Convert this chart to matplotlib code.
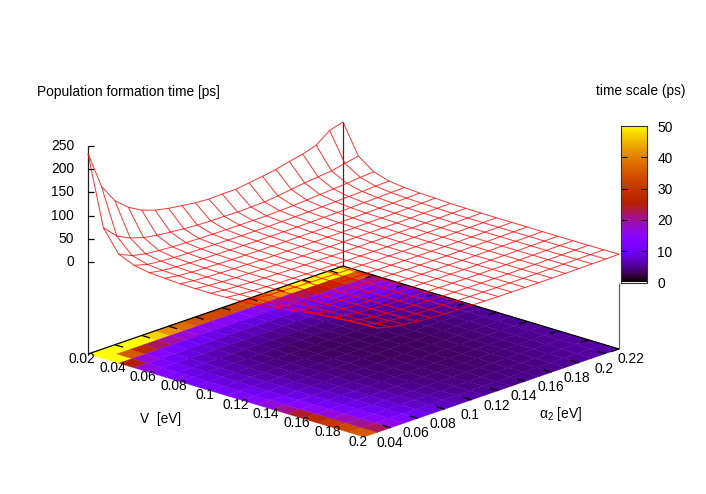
import numpy as np
import matplotlib
matplotlib.use("Agg")
import matplotlib.pyplot as plt
from matplotlib.collections import PolyCollection, LineCollection
from matplotlib.colors import LinearSegmentedColormap

plt.rcParams['font.family'] = ['Liberation Sans', 'DejaVu Sans']
plt.rcParams['mathtext.fontset'] = 'custom'
plt.rcParams['mathtext.rm'] = 'Liberation Sans'
plt.rcParams['mathtext.it'] = 'Liberation Sans:italic'

V_values = [0.02, 0.03, 0.04, 0.05, 0.06, 0.07, 0.08, 0.09, 0.10, 0.11,
            0.12, 0.13, 0.14, 0.15, 0.16, 0.17, 0.18, 0.19, 0.20]
alpha_values = [0.02, 0.03, 0.04, 0.05, 0.06, 0.07, 0.08, 0.09, 0.10, 0.11,
                0.12, 0.13, 0.14, 0.15, 0.16, 0.17, 0.18, 0.19, 0.20, 0.21]
# formation time [ps]: one row per V, one column per alpha
formation_time = [
    [233, 153, 112, 88, 72, 62, 56, 52, 48, 46, 47, 47, 51, 55, 60, 67, 73, 82, 104, 112],
    [84, 56, 42, 33, 28, 25, 22, 20, 19, 19, 18, 19, 20, 23, 27, 31, 34, 37, 43, 49],
    [37, 24, 18, 15, 13, 12, 11, 10.5, 10, 10, 10, 10, 11, 12, 14, 16, 18, 20, 23, 25],
    [23, 15, 12, 10, 9, 8.5, 8, 7.5, 7, 7, 7, 7.5, 8, 8.5, 9.5, 10.5, 11.5, 12.5, 14, 15],
    [17, 12, 9.8, 8.2, 7.3, 6.7, 6.2, 5.8, 5.5, 5.5, 5.5, 5.7, 6, 6.5, 7, 7.7, 8.5, 9.2, 10.2, 11],
    [15, 10.5, 8.4, 7, 6.1, 5.4, 5, 4.7, 4.5, 4.4, 4.4, 4.5, 4.8, 5.1, 5.5, 6, 6.6, 7.2, 8.2, 9],
    [13, 9.8, 7.8, 6.5, 5.5, 4.8, 4.3, 4, 3.8, 3.7, 3.7, 3.8, 4, 4.3, 4.7, 5.1, 5.6, 6.2, 7, 8],
    [12.5, 9.5, 7.6, 6.3, 5.4, 4.7, 4.1, 3.6, 3.3, 3.2, 3.2, 3.3, 3.5, 3.7, 4, 4.4, 4.8, 5.4, 6, 6.5],
    [12.5, 9.5, 7.6, 6.3, 5.4, 4.7, 4.1, 3.7, 3.3, 3, 3, 3, 3.2, 3.4, 3.7, 4, 4.4, 4.9, 5.4, 6],
    [13.5, 10, 8, 6.6, 5.6, 4.9, 4.3, 3.9, 3.5, 3.2, 3, 2.9, 2.9, 3, 3.3, 3.6, 4, 4.4, 4.9, 5.5],
    [15, 11, 8.6, 7, 5.9, 5.1, 4.4, 4, 3.6, 3.3, 3.1, 3, 3, 3.1, 3.3, 3.6, 4, 4.4, 4.9, 5.5],
    [17, 13, 9.5, 7.5, 6.2, 5.3, 4.6, 4.1, 3.7, 3.4, 3.2, 3.1, 3.1, 3.2, 3.4, 3.7, 4, 4.4, 4.9, 5.5],
    [22, 15, 10.5, 8, 6.7, 5.7, 4.9, 4.3, 3.9, 3.6, 3.3, 3.2, 3.2, 3.3, 3.5, 3.8, 4.1, 4.5, 5, 5.5],
    [27, 17, 11.5, 8.8, 7.2, 6, 5.2, 4.6, 4.1, 3.8, 3.5, 3.4, 3.3, 3.4, 3.6, 3.9, 4.2, 4.6, 5, 5.5],
    [32, 19, 12.5, 9.6, 7.8, 6.5, 5.6, 4.9, 4.4, 4, 3.7, 3.6, 3.5, 3.6, 3.8, 4, 4.3, 4.7, 5.1, 5.5],
    [36, 21, 14, 10.5, 8.5, 7, 6, 5.3, 4.7, 4.3, 4, 3.8, 3.7, 3.8, 4, 4.2, 4.5, 4.8, 5.2, 5.6],
    [40, 23, 15.5, 11.5, 9.2, 7.6, 6.5, 5.7, 5, 4.6, 4.3, 4.1, 4, 4, 4.2, 4.4, 4.7, 5, 5.4, 5.7],
    [43, 25, 17, 13, 10, 8.3, 7, 6.2, 5.5, 5, 4.6, 4.4, 4.3, 4.3, 4.5, 4.7, 5, 5.3, 5.6, 6],
    [45, 27, 19.5, 14.5, 11.5, 9.3, 7.8, 6.8, 6, 5.4, 5, 4.8, 4.7, 4.7, 4.8, 5, 5.3, 5.6, 6, 6.4],
]
V_ticks = [0.02, 0.04, 0.06, 0.08, 0.10, 0.12, 0.14, 0.16, 0.18, 0.20]
V_labels = ['0.02', '0.04', '0.06', '0.08', '0.1', '0.12', '0.14', '0.16', '0.18', '0.2']
alpha_ticks = [0.04, 0.06, 0.08, 0.10, 0.12, 0.14, 0.16, 0.18, 0.20, 0.22]
alpha_labels = ['0.04', '0.06', '0.08', '0.1', '0.12', '0.14', '0.16', '0.18', '0.2', '0.22']
z_ticks = [0, 50, 100, 150, 200, 250]
cb_ticks = [0, 10, 20, 30, 40, 50]

W, H = 706, 494
FS = 9.9
fig = plt.figure(figsize=(W / 100, H / 100), dpi=100)
ax = fig.add_axes([0, 0, 1, 1])
ax.set_xlim(0, W)
ax.set_ylim(H, 0)
ax.axis('off')

V = np.array(V_values)
A = np.array(alpha_values)
Z = np.array(formation_time, dtype=float)
V0, V1, A0, A1 = V[0], V[-1], A[0], A[-1]
ZBASE = -197.0


def project(v, a, z=ZBASE):
    """Fixed oblique view of the (V, alpha, z) box onto figure pixels."""
    s = (np.asarray(v) - V0) / (V1 - V0)
    t = (np.asarray(a) - A0) / (A1 - A0)
    x = 88 + 276 * s + 255 * t
    y = 354 + 83 * s - 88 * t - (np.asarray(z) - ZBASE) * 23.3 / 50
    return x, y


# gnuplot's default pm3d palette (rgbformulae 7,5,15)
xs = np.linspace(0, 1, 256)
cmap = LinearSegmentedColormap.from_list(
    'pm3d', np.c_[np.sqrt(xs), xs ** 3, np.clip(np.sin(2 * np.pi * xs), 0, 1)], N=256)

# base map: one quad per grid cell, coloured by the mean of its corners
polys, cell_vals = [], []
for j in range(len(V) - 1):
    for i in range(len(A) - 1):
        vv = [V[j], V[j], V[j + 1], V[j + 1]]
        aa = [A[i], A[i + 1], A[i + 1], A[i]]
        px, py = project(vv, aa)
        polys.append(np.c_[px, py])
        cell_vals.append((Z[j, i] + Z[j, i + 1] + Z[j + 1, i + 1] + Z[j + 1, i]) / 4)
ax.add_collection(PolyCollection(polys, array=np.array(cell_vals), cmap=cmap,
                                 clim=(0, 50), edgecolors='face', linewidths=0.25, zorder=2))

BLACK = '#000000'
AXW = 0.9


def seg(v0, a0, z0, v1, a1, z1, color=BLACK, zorder=3, lw=AXW):
    x0, y0 = project(v0, a0, z0)
    x1, y1 = project(v1, a1, z1)
    ax.plot([x0, x1], [y0, y1], color=color, lw=lw, zorder=zorder, solid_capstyle='butt')


# back edges of the base and vertical edges
seg(V0, A0, ZBASE, V0, A1, ZBASE)
seg(V0, A1, ZBASE, V1, A1, ZBASE)
seg(V0, A0, ZBASE, V0, A0, 250, color='#202020')
seg(V0, A1, ZBASE, V0, A1, Z[0, -1], color='#303030', zorder=1.5)
seg(V1, A1, ZBASE, V1, A1, -55, color='#606060', zorder=1.5)

# z axis
for z in z_ticks:
    x, y = project(V0, A0, z)
    ax.plot([x, x + 6], [y, y], color=BLACK, lw=AXW, zorder=3, solid_capstyle='butt')
    ax.text(x - 14, y, str(z), ha='right', va='center', fontsize=FS, color='black')

# ticks on the base, pointing inward
dV = 0.0054
dA = 0.006
for a, lab in zip(alpha_ticks, alpha_labels):
    if a - 1e-9 <= A1:
        seg(V0, a, ZBASE, V0 + dV, a, ZBASE)
        seg(V1, a, ZBASE, V1 - dV, a, ZBASE)
    x, y = project(V1, a)
    ax.text(x - 1.5, y + 15, lab, ha='center', va='center', fontsize=FS, color='black')
for v, lab in zip(V_ticks, V_labels):
    if v > V0 + 1e-9:
        seg(v, A1, ZBASE, v, A1 - dA, ZBASE)
    x, y = project(v, A0)
    ax.text(x - 6, y + 4.5, lab, ha='center', va='center', fontsize=FS, color='black')

# wire mesh of the surface
lines = []
for j in range(len(V)):
    px, py = project(np.full_like(A, V[j]), A, Z[j])
    lines.append(np.c_[px, py])
for i in range(len(A)):
    px, py = project(V, np.full_like(V, A[i]), Z[:, i])
    lines.append(np.c_[px, py])
ax.add_collection(LineCollection(lines, colors='#ff0000', linewidths=0.7, zorder=4, alpha=0.8))

# texts
ax.text(37, 92, 'Population formation time [ps]', ha='left', va='center', fontsize=FS)
ax.text(686, 91, 'time scale (ps)', ha='right', va='center', fontsize=FS)
ax.text(140, 419, 'V  [eV]', ha='left', va='center', fontsize=FS)
ax.text(539, 414, r'$\mathrm{α_2}$ [eV]', ha='left', va='center', fontsize=FS)

# colour box
cax = fig.add_axes([620.5 / W, 1 - 282.5 / H, 26.5 / W, 156.5 / H], zorder=5)
cax.imshow(np.linspace(0, 50, 256)[:, None], origin='lower', aspect='auto', cmap=cmap,
           vmin=0, vmax=50, extent=[0, 1, 0, 50])
cax.set_xticks([])
cax.set_yticks(cb_ticks)
cax.tick_params(axis='y', direction='in', length=4.3, width=0.7, left=True, right=True,
                labelleft=False, labelright=True, labelsize=FS, pad=7.5)
for s in cax.spines.values():
    s.set_linewidth(0.8)
    s.set_color('#303030')

fig.savefig('out.png', dpi=100, facecolor='white')
